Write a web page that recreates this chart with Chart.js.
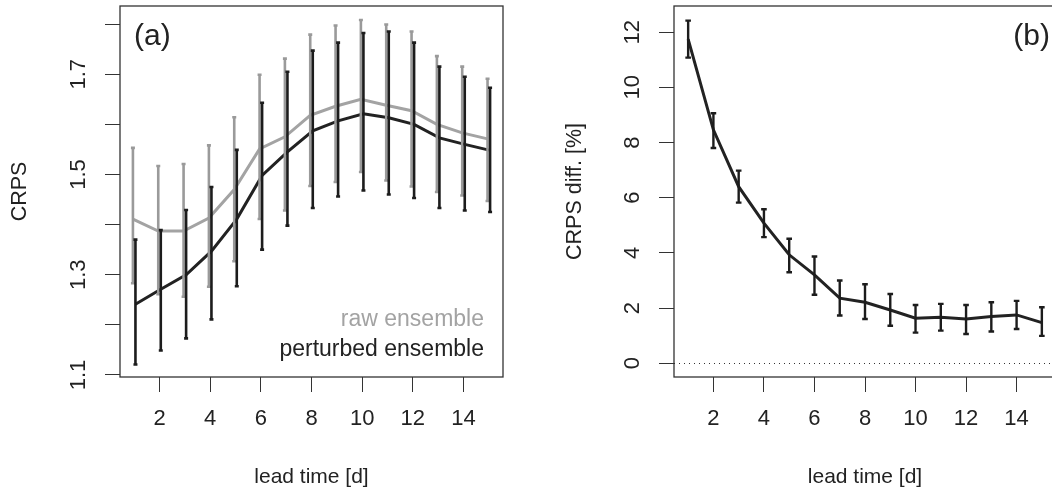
<!DOCTYPE html>
<html>
<head>
<meta charset="utf-8">
<script src="https://cdn.jsdelivr.net/npm/chart.js@4.4.1/dist/chart.umd.min.js"></script>
<style>
  html, body { margin: 0; padding: 0; background: #fff; overflow: hidden; }
  #wrap { position: relative; width: 1052px; height: 492px; overflow: hidden; }
  #chart-a { position: absolute; left: 0; top: 0; }
  #chart-b { position: absolute; left: 526px; top: 0; }
</style>
</head>
<body>
<div id="wrap">
  <canvas id="chart-a" width="526" height="492"></canvas>
  <canvas id="chart-b" width="560" height="492"></canvas>
</div>
<script>
const leadTime = [1, 2, 3, 4, 5, 6, 7, 8, 9, 10, 11, 12, 13, 14, 15];

// panel (a): raw ensemble
const rawCrps = [1.411, 1.387, 1.387, 1.413, 1.470, 1.551, 1.575, 1.618, 1.636, 1.650, 1.638, 1.627, 1.600, 1.583, 1.571];
const rawLow  = [1.283, 1.261, 1.256, 1.276, 1.327, 1.411, 1.428, 1.477, 1.485, 1.505, 1.488, 1.476, 1.465, 1.458, 1.447];
const rawHigh = [1.553, 1.517, 1.521, 1.558, 1.614, 1.699, 1.731, 1.779, 1.797, 1.808, 1.799, 1.785, 1.736, 1.715, 1.691];

// panel (a): perturbed ensemble
const pertCrps = [1.241, 1.271, 1.300, 1.347, 1.411, 1.498, 1.545, 1.587, 1.607, 1.621, 1.613, 1.600, 1.573, 1.560, 1.548];
const pertLow  = [1.121, 1.149, 1.173, 1.211, 1.277, 1.350, 1.398, 1.433, 1.456, 1.468, 1.460, 1.453, 1.433, 1.428, 1.425];
const pertHigh = [1.370, 1.389, 1.429, 1.475, 1.549, 1.643, 1.705, 1.747, 1.763, 1.782, 1.785, 1.763, 1.715, 1.695, 1.673];

// panel (b): CRPS difference in %
const diffPct  = [11.75, 8.46, 6.40, 5.08, 3.93, 3.20, 2.36, 2.21, 1.93, 1.63, 1.67, 1.60, 1.69, 1.75, 1.47];
const diffLow  = [11.08, 7.80, 5.82, 4.57, 3.30, 2.48, 1.73, 1.60, 1.36, 1.11, 1.18, 1.06, 1.15, 1.24, 0.99];
const diffHigh = [12.42, 9.06, 6.98, 5.58, 4.51, 3.87, 3.00, 2.86, 2.51, 2.11, 2.15, 2.11, 2.21, 2.26, 2.03];

const xTicks = [2, 4, 6, 8, 10, 12, 14];
const yTicksA = [1.1, 1.2, 1.3, 1.4, 1.5, 1.6, 1.7, 1.8];
const yLabelsA = ['1.1', '', '1.3', '', '1.5', '', '1.7', ''];
const yTicksB = [0, 2, 4, 6, 8, 10, 12];
const yLabelsB = ['0', '2', '4', '6', '8', '10', '12'];

const FONT = "'Liberation Sans', Arial, Helvetica, sans-serif";
const INK = '#222';
const GREY = '#a3a3a3';

function pts(vals, dx) {
    return leadTime.map((t, i) => ({ x: t + dx, y: vals[i] }));
}

const panelPlugin = {
    id: 'panel',
    beforeDatasetsDraw(chart, args, opts) {
        if (!opts.zeroLine) return;
        const { ctx, chartArea: a, scales: { y } } = chart;
        const py = Math.round(y.getPixelForValue(0)) + 0.5;
        ctx.save();
        ctx.strokeStyle = '#333';
        ctx.lineWidth = 1;
        ctx.setLineDash([1, 4]);
        ctx.beginPath();
        ctx.moveTo(a.left, py);
        ctx.lineTo(a.right, py);
        ctx.stroke();
        ctx.restore();
    },
    afterDatasetsDraw(chart, args, opts) {
        const { ctx, chartArea: a, scales: { x, y } } = chart;
        ctx.save();
        // error bars
        chart.data.datasets.forEach(ds => {
            if (!ds.errLow) return;
            ctx.strokeStyle = ds.barColor;
            ctx.lineWidth = ds.barWidth;
            ds.data.forEach((p, i) => {
                const px = x.getPixelForValue(p.x);
                const lo = y.getPixelForValue(ds.errLow[i]);
                const hi = y.getPixelForValue(ds.errHigh[i]);
                ctx.beginPath();
                ctx.moveTo(px, lo);
                ctx.lineTo(px, hi);
                ctx.moveTo(px - ds.capHalf, lo);
                ctx.lineTo(px + ds.capHalf, lo);
                ctx.moveTo(px - ds.capHalf, hi);
                ctx.lineTo(px + ds.capHalf, hi);
                ctx.stroke();
            });
        });
        // box
        ctx.strokeStyle = '#333';
        ctx.lineWidth = 1.3;
        ctx.strokeRect(a.left, a.top, a.right - a.left, a.bottom - a.top);

        // rotated y tick labels (R style)
        ctx.fillStyle = INK;
        ctx.font = '22px ' + FONT;
        ctx.textAlign = 'center';
        ctx.textBaseline = 'middle';
        opts.yTicks.forEach((v, i) => {
            if (!opts.yLabels[i]) return;
            const py = y.getPixelForValue(v);
            ctx.save();
            ctx.translate(a.left - 41, py);
            ctx.rotate(-Math.PI / 2);
            ctx.fillText(opts.yLabels[i], 0, 0);
            ctx.restore();
        });

        // panel tag
        ctx.font = '30px ' + FONT;
        ctx.textAlign = opts.tagAlign;
        ctx.fillText(opts.tag, opts.tagAlign === 'left' ? a.left + 14 : a.right - 6, a.top + 31);

        // legend text
        ctx.font = '23px ' + FONT;
        ctx.textAlign = 'right';
        (opts.notes || []).forEach(n => {
            ctx.fillStyle = n.color;
            ctx.fillText(n.text, a.right - 19, a.bottom + n.dy);
        });
        ctx.restore();
    }
};

function makeChart(id, datasets, yMin, yMax, yTicks, yAxisWidth, yTitle, yTitlePad, rightPad, panelOpts) {
    return new Chart(document.getElementById(id), {
        type: 'line',
        data: { datasets: datasets },
        options: {
            responsive: false,
            animation: false,
            events: [],
            layout: { padding: { left: 0, top: 6, right: rightPad, bottom: 0 } },
            elements: { point: { radius: 0 }, line: { tension: 0 } },
            scales: {
                x: {
                    type: 'linear',
                    min: 0.44,
                    max: 15.56,
                    afterBuildTicks: s => { s.ticks = xTicks.map(v => ({ value: v })); },
                    afterFit: s => { s.height = 115; },
                    grid: { drawOnChartArea: false, drawTicks: true, tickLength: 15, color: '#333' },
                    border: { display: false },
                    ticks: { font: { family: FONT, size: 22 }, color: INK, padding: 14, maxRotation: 0, autoSkip: false },
                    title: { display: true, text: 'lead time [d]', font: { family: FONT, size: 21 }, color: INK, padding: { top: 0, bottom: 2 } }
                },
                y: {
                    type: 'linear',
                    min: yMin,
                    max: yMax,
                    afterBuildTicks: s => { s.ticks = yTicks.map(v => ({ value: v })); },
                    afterFit: s => { s.width = yAxisWidth; },
                    grid: { drawOnChartArea: false, drawTicks: true, tickLength: 15, color: '#333' },
                    border: { display: false },
                    ticks: { display: false },
                    title: { display: true, text: yTitle, font: { family: FONT, size: 21.5 }, color: INK, padding: { top: yTitlePad, bottom: 0 } }
                }
            },
            plugins: {
                legend: { display: false },
                tooltip: { enabled: false },
                panel: panelOpts
            }
        },
        plugins: [panelPlugin]
    });
}

var chartA = makeChart('chart-a', [
    {
        label: 'raw ensemble',
        data: pts(rawCrps, -0.05),
        borderColor: GREY,
        borderWidth: 3,
        errLow: rawLow, errHigh: rawHigh, barColor: '#9a9a9a', barWidth: 2.6, capHalf: 2
    },
    {
        label: 'perturbed ensemble',
        data: pts(pertCrps, 0.05),
        borderColor: INK,
        borderWidth: 3,
        errLow: pertLow, errHigh: pertHigh, barColor: '#1c1c1c', barWidth: 2.6, capHalf: 2
    }
], 1.096, 1.836, yTicksA, 120, 'CRPS', 7.2, 23, {
    yTicks: yTicksA,
    yLabels: yLabelsA,
    tag: '(a)',
    tagAlign: 'left',
    notes: [
        { text: 'raw ensemble', color: GREY, dy: -57 },
        { text: 'perturbed ensemble', color: INK, dy: -27 }
    ]
});

var chartB = makeChart('chart-b', [
    {
        label: 'CRPS diff.',
        data: pts(diffPct, 0),
        borderColor: INK,
        borderWidth: 3,
        errLow: diffLow, errHigh: diffHigh, barColor: '#1c1c1c', barWidth: 2.4, capHalf: 2.8
    }
], -0.5, 12.95, yTicksB, 148, 'CRPS diff. [%]', 36.2, 30, {
    yTicks: yTicksB,
    yLabels: yLabelsB,
    tag: '(b)',
    tagAlign: 'right',
    zeroLine: true
});
</script>
</body>
</html>
